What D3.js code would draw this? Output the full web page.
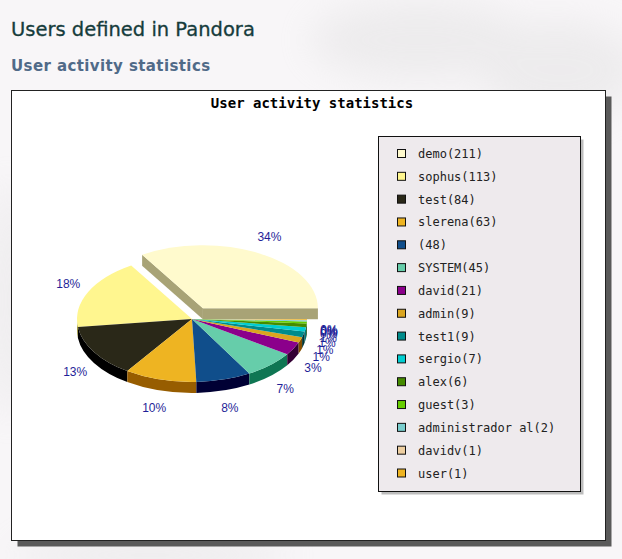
<!DOCTYPE html>
<html>
<head>
<meta charset="utf-8">
<script src="https://cdn.jsdelivr.net/npm/d3@7"></script>
<style>
  html, body { margin: 0; padding: 0; background: #f7f5f7; }
  svg { display: block; }
</style>
</head>
<body>
<div id="chart"></div>
<script>
// data
var users = ["demo", "sophus", "test", "slerena", "", "SYSTEM", "david", "admin",
             "test1", "sergio", "alex", "guest", "administrador al", "davidv", "user"];
var counts = [211, 113, 84, 63, 48, 45, 21, 9, 9, 7, 6, 3, 2, 1, 1];
var sliceColors = ["#fffacd", "#fff68f", "#2a2818", "#eeb422", "#104e8b", "#66cdaa", "#8b008b",
                   "#daa520", "#008b8b", "#00ced1", "#458b00", "#66cd00", "#79cdcd", "#eecfa1", "#eeb422"];
var explodedIndex = 0;

var width = 622, height = 559;

var svg = d3.select("#chart").append("svg")
    .attr("width", width)
    .attr("height", height);

// faint marbled backdrop
var defs = svg.append("defs");
var blur = defs.append("filter").attr("id", "soft").attr("x", "-50%").attr("y", "-50%").attr("width", "200%").attr("height", "200%");
blur.append("feGaussianBlur").attr("stdDeviation", 18);
svg.append("rect").attr("width", width).attr("height", height).attr("fill", "#f8f6f8");
var blobs = svg.append("g").attr("filter", "url(#soft)").attr("fill", "#d9d9d9").attr("opacity", 0.35);
blobs.append("ellipse").attr("cx", 420).attr("cy", 40).attr("rx", 110).attr("ry", 40);
blobs.append("ellipse").attr("cx", 560).attr("cy", 70).attr("rx", 80).attr("ry", 50);
blobs.append("ellipse").attr("cx", 150).attr("cy", 555).attr("rx", 140).attr("ry", 20);
blobs.append("ellipse").attr("cx", 10).attr("cy", 300).attr("rx", 20).attr("ry", 120);

// page headings
svg.append("text")
    .attr("x", 11).attr("y", 36)
    .attr("font-family", "DejaVu Sans, Verdana, sans-serif")
    .attr("font-size", 19.5)
    .attr("fill", "#163c3c")
    .attr("stroke", "#163c3c").attr("stroke-width", 0.3)
    .text("Users defined in Pandora");

svg.append("text")
    .attr("x", 11).attr("y", 71)
    .attr("font-family", "DejaVu Sans, Verdana, sans-serif")
    .attr("font-size", 15)
    .attr("letter-spacing", 0.4)
    .attr("font-weight", "bold")
    .attr("fill", "#506a88")
    .text("User activity statistics");

// chart frame with shadow
var frame = { x: 11.5, y: 90.5, w: 594, h: 450 };
svg.append("rect")
    .attr("x", frame.x + 6).attr("y", frame.y + 6)
    .attr("width", frame.w).attr("height", frame.h)
    .attr("fill", "#5a5a5a");
svg.append("rect")
    .attr("x", frame.x).attr("y", frame.y)
    .attr("width", frame.w).attr("height", frame.h)
    .attr("fill", "#ffffff")
    .attr("stroke", "#222").attr("stroke-width", 1);

svg.append("text")
    .attr("x", 312).attr("y", 108)
    .attr("text-anchor", "middle")
    .attr("font-family", "DejaVu Sans Mono, monospace")
    .attr("font-size", 14)
    .attr("font-weight", "bold")
    .attr("fill", "#000")
    .text("User activity statistics");

// 3d pie
var cx = 192, cy = 319, rx = 115, ry = 63, depth = 11;
var explode = 22.5;
var labelRx = 137, labelRy = 81;

var total = d3.sum(counts);
var arcs = d3.pie().sort(null).startAngle(0).endAngle(2 * Math.PI)(counts);
var color = d3.scaleOrdinal().domain(d3.range(counts.length)).range(sliceColors);

function sideColor(c) {
    var rgb = d3.rgb(c);
    return d3.rgb(Math.max(0, rgb.r - 87), Math.max(0, rgb.g - 87), Math.max(0, rgb.b - 87)).formatHex();
}

function offset(d, i) {
    if (i !== explodedIndex) return [0, 0];
    var m = (d.startAngle + d.endAngle) / 2;
    return [explode * Math.cos(m), -explode * Math.sin(m) * ry / rx];
}

function pt(a, o, dy) {
    return [cx + o[0] + rx * Math.cos(a), cy + o[1] - ry * Math.sin(a) + (dy || 0)];
}

function topPath(d, i) {
    var o = offset(d, i);
    var p1 = pt(d.startAngle, o), p2 = pt(d.endAngle, o);
    var large = (d.endAngle - d.startAngle) > Math.PI ? 1 : 0;
    return "M" + (cx + o[0]) + "," + (cy + o[1]) +
        "L" + p1 + "A" + rx + "," + ry + " 0 " + large + " 0 " + p2 + "Z";
}

function wallPath(d, i) {
    var o = offset(d, i);
    var b1 = Math.max(d.startAngle, Math.PI), b2 = Math.min(d.endAngle, 2 * Math.PI);
    if (b2 <= b1) return null;
    var p1 = pt(b1, o), p2 = pt(b2, o), q2 = pt(b2, o, depth), q1 = pt(b1, o, depth);
    return "M" + p1 + "A" + rx + "," + ry + " 0 0 0 " + p2 +
        "L" + q2 + "A" + rx + "," + ry + " 0 0 1 " + q1 + "Z";
}

function radialFace(a, o) {
    var c0 = [cx + o[0], cy + o[1]], p = pt(a, o);
    return "M" + c0 + "L" + p + "L" + [p[0], p[1] + depth] + "L" + [c0[0], c0[1] + depth] + "Z";
}

var pie = svg.append("g");

// exploded slice sits behind, draw it first
var ex = arcs[explodedIndex], exOff = offset(ex, explodedIndex);
pie.append("path").attr("d", radialFace(ex.startAngle, exOff)).attr("fill", sideColor(color(explodedIndex)));
pie.append("path").attr("d", radialFace(ex.endAngle, exOff)).attr("fill", sideColor(color(explodedIndex)));
pie.append("path").attr("d", topPath(ex, explodedIndex)).attr("fill", color(explodedIndex));

var rest = arcs.map(function(d, i) { return { d: d, i: i }; })
    .filter(function(e) { return e.i !== explodedIndex; });

pie.append("g").selectAll("path")
    .data(rest.filter(function(e) { return wallPath(e.d, e.i); }))
    .join("path")
    .attr("d", function(e) { return wallPath(e.d, e.i); })
    .attr("fill", function(e) { return sideColor(color(e.i)); });

pie.append("g").selectAll("path")
    .data(rest)
    .join("path")
    .attr("d", function(e) { return topPath(e.d, e.i); })
    .attr("fill", function(e) { return color(e.i); });

// percentage labels
pie.append("g").selectAll("text")
    .data(arcs)
    .join("text")
    .attr("x", function(d, i) {
        var m = (d.startAngle + d.endAngle) / 2;
        return cx + labelRx * Math.cos(m) + offset(d, i)[0];
    })
    .attr("y", function(d, i) {
        var m = (d.startAngle + d.endAngle) / 2;
        return cy - labelRy * Math.sin(m) + (Math.sin(m) < 0 ? depth : 0) + offset(d, i)[1];
    })
    .attr("text-anchor", "middle")
    .attr("dominant-baseline", "central")
    .attr("font-family", "Liberation Sans, Arial, sans-serif")
    .attr("font-size", 12)
    .attr("fill", "#1f1f98")
    .text(function(d) { return Math.round(d.value / total * 100) + "%"; });

// legend
var legend = { x: 378.5, y: 136.5, w: 202, h: 355 };
svg.append("rect")
    .attr("x", legend.x + 3).attr("y", legend.y + 3)
    .attr("width", legend.w).attr("height", legend.h)
    .attr("fill", "#bdbdbd");
svg.append("rect")
    .attr("x", legend.x).attr("y", legend.y)
    .attr("width", legend.w).attr("height", legend.h)
    .attr("fill", "#eeeaed")
    .attr("stroke", "#111").attr("stroke-width", 1);

var rowY = d3.scaleLinear().domain([0, counts.length - 1]).range([154, 473.5]);

var rows = svg.append("g").selectAll("g")
    .data(users)
    .join("g")
    .attr("transform", function(d, i) { return "translate(0," + rowY(i) + ")"; });

rows.append("rect")
    .attr("x", 397.5).attr("y", -4.5)
    .attr("width", 8).attr("height", 8)
    .attr("fill", function(d, i) { return color(i); })
    .attr("stroke", "#111").attr("stroke-width", 1);

rows.append("text")
    .attr("x", 418)
    .attr("y", 0)
    .attr("dominant-baseline", "central")
    .attr("font-family", "DejaVu Sans Mono, monospace")
    .attr("font-size", 12)
    .attr("fill", "#222")
    .text(function(d, i) { return d + "(" + counts[i] + ")"; });
</script>
</body>
</html>
